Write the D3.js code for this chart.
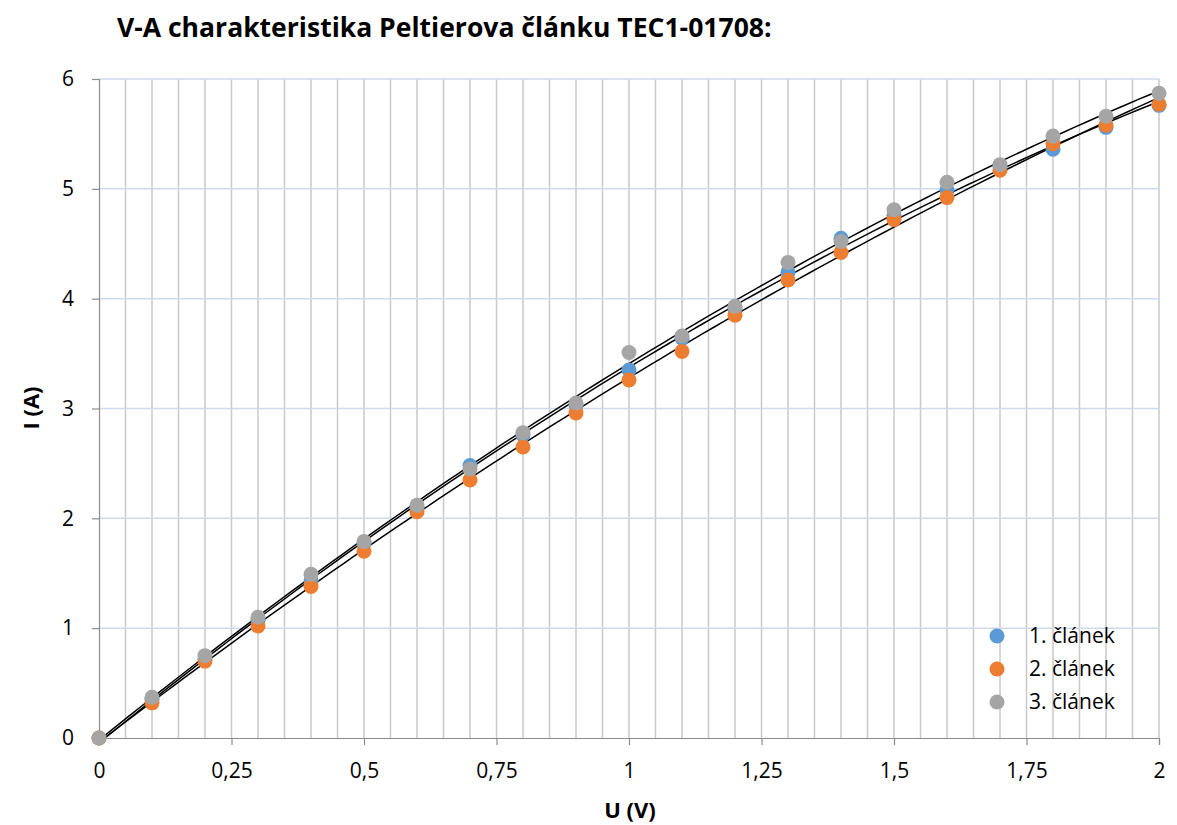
<!DOCTYPE html>
<html><head><meta charset="utf-8">
<script src="https://cdn.jsdelivr.net/npm/d3@7"></script>
<style>body{margin:0;background:#fff}text{font-family:"Open Sans",sans-serif}</style>
</head><body><svg id="c" width="1177" height="825"></svg>
<script>
const voltages = [0,0.1,0.2,0.3,0.4,0.5,0.6,0.7,0.8,0.9,1.0,1.1,1.2,1.3,1.4,1.5,1.6,1.7,1.8,1.9,2.0];
const cell1 = [0,0.35,0.72,1.07,1.43,1.77,2.10,2.48,2.76,3.03,3.35,3.64,3.91,4.24,4.55,4.76,4.99,5.20,5.36,5.56,5.76];
const cell2 = [0,0.32,0.70,1.02,1.38,1.70,2.06,2.35,2.65,2.96,3.26,3.52,3.85,4.17,4.42,4.72,4.92,5.17,5.41,5.58,5.77];
const cell3 = [0,0.37,0.75,1.10,1.49,1.79,2.12,2.45,2.78,3.05,3.51,3.66,3.93,4.33,4.52,4.81,5.06,5.22,5.48,5.66,5.87];
const seriesNames = ["1. článek","2. článek","3. článek"];
const colors = ["#5B9BD5","#ED7D31","#A5A5A5"];
const xTicks = [0,0.25,0.5,0.75,1,1.25,1.5,1.75,2];
const yTicks = [0,1,2,3,4,5,6];

const FONT = "'Open Sans',sans-serif";
const svg = d3.select("#c");
const x = d3.scaleLinear().domain([0,2]).range([99,1159]);
const y = d3.scaleLinear().domain([0,6]).range([738,79]);
const fmt = v => String(v).replace(".", ",");

// vertical minor gridlines every 0.05
const vg = d3.range(1,41).map(i => i*0.05);
svg.append("g").selectAll("line").data(vg).join("line")
  .attr("x1", d=>x(d)).attr("x2", d=>x(d)).attr("y1", y(0)).attr("y2", y(6))
  .attr("stroke","#c9c9c9").attr("stroke-width",1.5);
// horizontal gridlines
svg.append("g").selectAll("line").data(yTicks.slice(1)).join("line")
  .attr("x1", x(0)).attr("x2", x(2)).attr("y1", d=>y(d)).attr("y2", d=>y(d))
  .attr("stroke","#cfd9ec").attr("stroke-width",1.5);

// axes
const xAxis = svg.append("g").attr("transform",`translate(0,${y(0)})`)
  .call(d3.axisBottom(x).tickValues(xTicks).tickFormat(fmt).tickSize(7).tickPadding(18));
const yAxis = svg.append("g").attr("transform",`translate(${x(0)},0)`)
  .call(d3.axisLeft(y).tickValues(yTicks).tickFormat(fmt).tickSize(7).tickPadding(18));
[xAxis,yAxis].forEach(a=>{
  a.select(".domain").attr("stroke","#8c8c8c").attr("stroke-width",1.2);
  a.selectAll(".tick line").attr("stroke","#8c8c8c").attr("stroke-width",1.2);
  a.selectAll("text").attr("font-size",21).attr("fill","#000").style("font-family",FONT);
});

// quadratic least-squares trendlines
function quadFit(xs, ys){
  let S=[[0,0,0],[0,0,0],[0,0,0]], T=[0,0,0];
  xs.forEach((xv,i)=>{const p=[1,xv,xv*xv];for(let a=0;a<3;a++){T[a]+=p[a]*ys[i];for(let b=0;b<3;b++)S[a][b]+=p[a]*p[b];}});
  const M=S.map((r,i)=>[...r,T[i]]);
  for(let i=0;i<3;i++){for(let k=i+1;k<3;k++){const f=M[k][i]/M[i][i];for(let j=i;j<4;j++)M[k][j]-=f*M[i][j];}}
  const c=[0,0,0];
  for(let i=2;i>=0;i--){let s=M[i][3];for(let j=i+1;j<3;j++)s-=M[i][j]*c[j];c[i]=s/M[i][i];}
  return v=>c[0]+c[1]*v+c[2]*v*v;
}
const all = [cell1,cell2,cell3];
const line = d3.line().x(d=>x(d[0])).y(d=>y(d[1]));
const xs = d3.range(0,2.0001,0.02);
all.forEach(s=>{
  const f = quadFit(voltages,s);
  svg.append("path").attr("d", line(xs.map(v=>[v,f(v)]))).attr("fill","none")
    .attr("stroke","#000").attr("stroke-width",1.5);
});

// points
all.forEach((s,k)=>{
  svg.append("g").selectAll("circle").data(voltages).join("circle")
    .attr("cx",d=>x(d)).attr("cy",(d,i)=>y(s[i])).attr("r",7.5).attr("fill",colors[k]);
});

// legend
seriesNames.forEach((n,k)=>{
  svg.append("circle").attr("cx",997).attr("cy",636+k*33).attr("r",7.5).attr("fill",colors[k]);
  svg.append("text").attr("x",1029).attr("y",636+k*33).attr("dy","0.35em").attr("font-size",21).text(n);
});

// titles
const title = svg.append("text").attr("x",117).attr("y",37).attr("font-size",21).attr("font-weight","bold")
  .text("V-A charakteristika Peltierova článku TEC1-01708:");
const tw = title.node().getComputedTextLength();
title.attr("font-size", 21*655/tw);
svg.append("text").attr("x",630).attr("y",818).attr("text-anchor","middle").attr("font-size",22).attr("font-weight","bold").text("U (V)");
svg.append("text").attr("transform","translate(39,408) rotate(-90)").attr("text-anchor","middle").attr("font-size",22).attr("font-weight","bold").text("I (A)");
</script></body></html>
